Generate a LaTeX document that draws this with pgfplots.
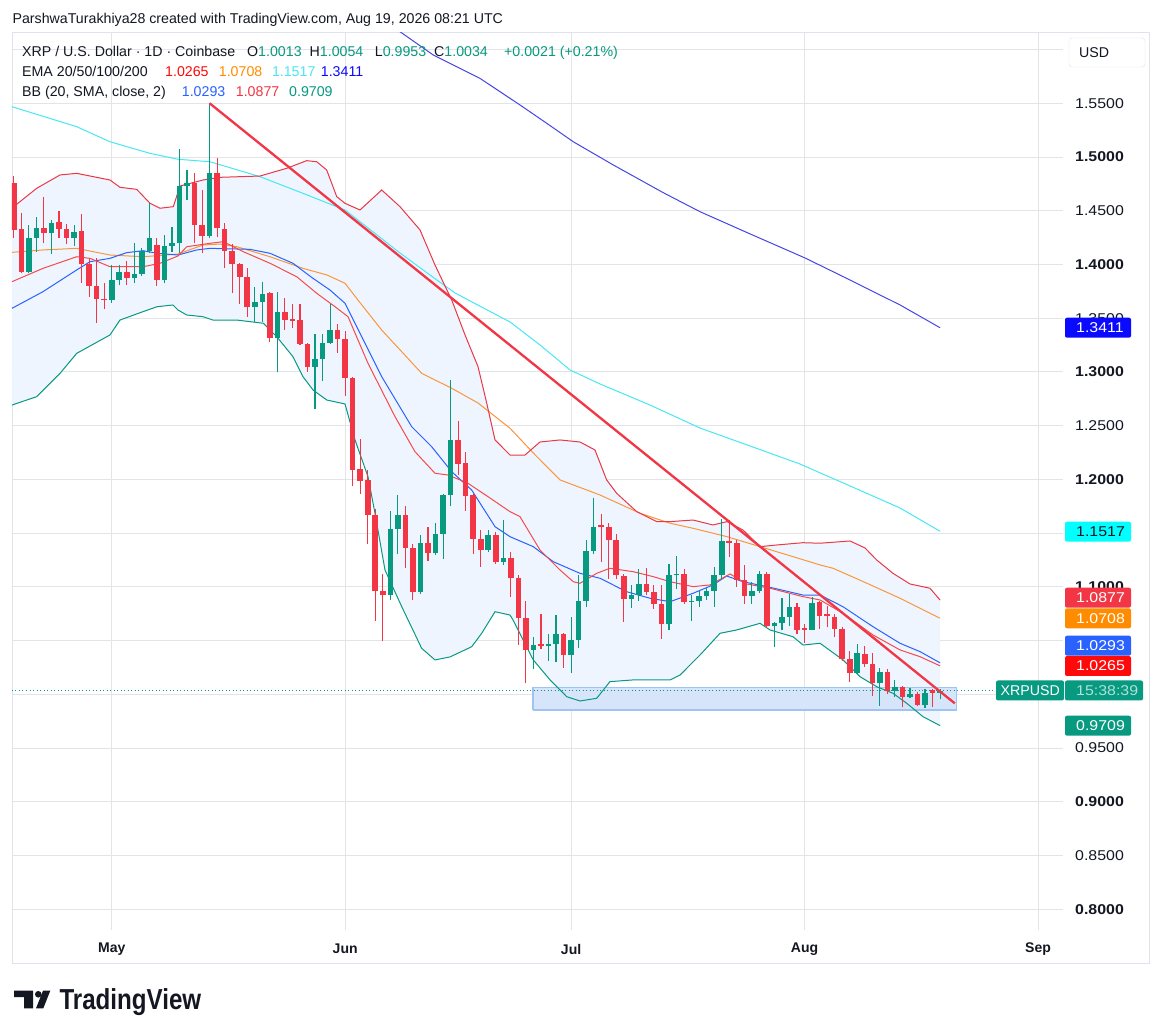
\documentclass[border=0pt]{standalone}
\usepackage{pgfplots}
\pgfplotsset{compat=1.18}
\usepackage{pgfplotstable}
\usepackage{fontspec}
\setmainfont{Liberation Sans}
\newfontfamily\pricefont[FakeStretch=1.12]{Liberation Sans}
\newfontfamily\tvfont[FakeStretch=0.835]{Liberation Sans}

\definecolor{upc}{RGB}{8,153,129}
\definecolor{dnc}{RGB}{242,54,69}
\definecolor{txt}{RGB}{19,23,34}
\definecolor{gridc}{RGB}{226,228,232}
\definecolor{framec}{RGB}{224,227,235}
\definecolor{emaA}{RGB}{245,75,75}
\definecolor{emaB}{RGB}{250,150,60}
\definecolor{emaC}{RGB}{70,232,245}
\definecolor{emaD}{RGB}{70,70,230}
\definecolor{bbmid}{RGB}{41,98,255}
\definecolor{bbup}{RGB}{235,55,70}
\definecolor{bbfill}{RGB}{239,245,254}
\definecolor{rectfill}{RGB}{214,229,250}
\definecolor{rectdraw}{RGB}{160,195,245}
\definecolor{labblue}{RGB}{10,10,255}
\definecolor{labcyan}{RGB}{0,255,255}
\definecolor{laborange}{RGB}{255,140,0}
\definecolor{labred}{RGB}{255,10,10}
\definecolor{timec}{RGB}{175,225,215}

% candles: d = days since 1 May
\pgfplotstableread{
d O H L C
-11 1.3930 1.4366 1.3920 1.4248
-10 1.4248 1.4444 1.4117 1.4336
-8 1.4289 1.4413 1.4093 1.4388
-5 1.4242 1.4364 1.4173 1.4300
0 1.3667 1.3993 1.3642 1.3851
1 1.3851 1.3993 1.3807 1.3931
3 1.3870 1.4200 1.3823 1.3910
4 1.3910 1.4150 1.3894 1.4124
5 1.4124 1.4568 1.4103 1.4242
7 1.3854 1.4270 1.3823 1.4173
8 1.4173 1.4350 1.4117 1.4196
9 1.4196 1.5075 1.4103 1.4730
10 1.4730 1.4879 1.4600 1.4760
13 1.4264 1.5500 1.4242 1.4848
19 1.3600 1.3792 1.3465 1.3652
20 1.3652 1.3838 1.3465 1.3723
22 1.3320 1.3745 1.3000 1.3558
27 1.3046 1.3357 1.2658 1.3124
28 1.3124 1.3357 1.2920 1.3270
29 1.3270 1.3636 1.3264 1.3388
37 1.0920 1.1705 1.0879 1.1541
38 1.1541 1.1852 1.1308 1.1671
41 1.0950 1.1479 1.0930 1.1407
43 1.1314 1.1593 1.1292 1.1494
44 1.1494 1.1867 1.1255 1.1852
45 1.1852 1.2923 1.1752 1.2364
50 1.1340 1.1525 1.1324 1.1479
52 1.1230 1.1618 1.1200 1.1271
56 1.0414 1.0538 1.0240 1.0463
58 1.0447 1.0563 1.0314 1.0466
59 1.0466 1.0740 1.0298 1.0563
61 1.0370 1.0718 1.0196 1.0510
62 1.0510 1.1106 1.0432 1.0864
63 1.0864 1.1432 1.0810 1.1333
64 1.1333 1.1830 1.1302 1.1556
69 1.0889 1.1013 1.0805 1.0920
70 1.0920 1.1168 1.0873 1.1029
74 1.0650 1.1215 1.0594 1.1106
75 1.1106 1.1283 1.0984 1.1122
77 1.0857 1.0920 1.0687 1.0873
78 1.0873 1.0966 1.0817 1.0911
79 1.0911 1.0991 1.0879 1.0966
80 1.0966 1.1184 1.0817 1.1106
81 1.1106 1.1634 1.1060 1.1426
85 1.0911 1.1044 1.0842 1.0957
86 1.0957 1.1147 1.0941 1.1116
88 1.0640 1.0671 1.0438 1.0668
89 1.0668 1.0898 1.0594 1.0718
90 1.0718 1.0929 1.0640 1.0811
93 1.0600 1.0904 1.0594 1.0851
99 1.0196 1.0469 1.0190 1.0382
102 1.0103 1.0246 0.9895 1.0212
104 1.0034 1.0134 0.9978 1.0072
106 0.9972 1.0059 0.9966 1.0003
108 0.9904 1.0053 0.9873 1.0009
110 1.0013 1.0054 0.9953 1.0034
}\candUp

\pgfplotstableread{
d O H L C
-13 1.4760 1.4820 1.4245 1.4320
-12 1.4326 1.4480 1.3916 1.3930
-9 1.4336 1.4624 1.4196 1.4289
-7 1.4391 1.4500 1.4242 1.4332
-6 1.4332 1.4373 1.4186 1.4242
-4 1.4310 1.4469 1.3832 1.4000
-3 1.4000 1.4047 1.3698 1.3798
-2 1.3798 1.4056 1.3456 1.3677
-1 1.3683 1.3829 1.3583 1.3667
2 1.3931 1.4034 1.3807 1.3870
6 1.4180 1.4248 1.3798 1.3854
11 1.4760 1.4848 1.4196 1.4366
12 1.4366 1.4692 1.4103 1.4264
14 1.4848 1.4993 1.4252 1.4336
15 1.4326 1.4382 1.3963 1.4127
16 1.4127 1.4189 1.3730 1.4000
17 1.4009 1.4015 1.3630 1.3884
18 1.3884 1.3963 1.3512 1.3600
21 1.3735 1.3745 1.3279 1.3320
23 1.3558 1.3692 1.3388 1.3480
24 1.3490 1.3636 1.3413 1.3475
25 1.3487 1.3636 1.3248 1.3264
26 1.3264 1.3270 1.3000 1.3046
30 1.3388 1.3450 1.3177 1.3311
31 1.3311 1.3382 1.2773 1.2948
32 1.2948 1.2955 1.1935 1.2090
33 1.2100 1.2379 1.1860 1.1985
34 1.1991 1.2090 1.1400 1.1665
35 1.1665 1.1727 1.0687 1.0966
36 1.0966 1.1122 1.0494 1.0920
39 1.1671 1.1752 1.1178 1.1364
40 1.1364 1.1395 1.0879 1.0950
42 1.1407 1.1556 1.1240 1.1314
46 1.2370 1.2543 1.2038 1.2147
47 1.2156 1.2255 1.1705 1.1842
48 1.1852 1.1860 1.1302 1.1448
49 1.1448 1.1525 1.1184 1.1340
51 1.1479 1.1510 1.1215 1.1230
53 1.1271 1.1324 1.0904 1.1080
54 1.1080 1.1106 1.0457 1.0712
55 1.0712 1.0867 1.0103 1.0414
57 1.0469 1.0749 1.0423 1.0447
60 1.0563 1.0570 1.0246 1.0370
65 1.1572 1.1680 1.1230 1.1556
66 1.1556 1.1593 1.1075 1.1432
67 1.1432 1.1494 1.1075 1.1106
68 1.1100 1.1122 1.0671 1.0889
71 1.1029 1.1178 1.0920 1.0950
72 1.0950 1.1013 1.0796 1.0842
73 1.0842 1.1022 1.0517 1.0650
76 1.1122 1.1168 1.0842 1.0857
82 1.1426 1.1618 1.1277 1.1407
83 1.1407 1.1432 1.0997 1.1066
84 1.1066 1.1200 1.0836 1.0911
87 1.1116 1.1137 1.0619 1.0640
91 1.0811 1.0848 1.0557 1.0594
92 1.0615 1.0650 1.0476 1.0600
94 1.0857 1.0873 1.0609 1.0733
95 1.0749 1.0826 1.0624 1.0733
96 1.0724 1.0749 1.0531 1.0609
97 1.0609 1.0624 1.0314 1.0330
98 1.0330 1.0407 1.0112 1.0196
100 1.0376 1.0454 1.0258 1.0283
101 1.0283 1.0382 0.9988 1.0103
103 1.0212 1.0237 1.0003 1.0034
105 1.0072 1.0081 0.9879 0.9972
107 1.0003 1.0019 0.9891 0.9904
109 1.0040 1.0053 0.9879 1.0013
}\candDn

% EMA 200
\pgfplotstableread{
d p
34.30 1.6368
38.28 1.6166
42.70 1.5949
48.90 1.5732
54.22 1.5484
57.76 1.5314
61.29 1.5142
66.60 1.4926
73.24 1.4668
78.12 1.4491
84.78 1.4284
92.08 1.4060
98.05 1.3855
104.69 1.3623
110.00 1.3411
}\emaDt

% EMA 100
\pgfplotstableread{
d p
-13.24 1.5468
-4.65 1.5282
-0.23 1.5142
5.09 1.5034
8.80 1.4979
13.05 1.4956
19.69 1.4817
25.40 1.4662
30.98 1.4507
38.28 1.4107
42.26 1.3902
45.58 1.3735
47.84 1.3651
52.89 1.3465
56.87 1.3251
60.86 1.3018
64.84 1.2888
71.48 1.2692
78.12 1.2478
84.76 1.2311
91.40 1.2143
98.04 1.1939
104.68 1.1734
110.00 1.1517
}\emaCt

% EMA 50
\pgfplotstableread{
d p
-13.24 1.4113
-9.12 1.4135
-4.65 1.4150
-0.23 1.4088
4.16 1.4072
8.80 1.4097
12.12 1.4181
14.38 1.4190
16.64 1.4165
21.02 1.4072
25.40 1.3964
28.59 1.3902
30.98 1.3825
32.70 1.3669
35.85 1.3390
41.16 1.2987
45.15 1.2848
48.64 1.2711
52.89 1.2476
56.24 1.2227
59.53 1.1995
64.84 1.1855
70.16 1.1685
74.14 1.1592
77.19 1.1545
81.71 1.1467
86.09 1.1374
90.47 1.1281
94.06 1.1204
95.79 1.1173
100.30 1.1033
104.68 1.0894
110.00 1.0708
}\emaBt

% EMA 20
\pgfplotstableread{
d p
-13.24 1.3840
-9.12 1.3964
-4.65 1.4072
-2.88 1.4057
-0.23 1.3979
4.16 1.3979
6.41 1.4011
8.80 1.4079
9.96 1.4165
13.05 1.4197
14.82 1.4212
17.47 1.4119
21.02 1.4011
24.57 1.3886
27.22 1.3732
29.65 1.3607
31.38 1.3514
34.03 1.3080
37.62 1.2584
40.27 1.2258
42.93 1.2057
44.66 1.2041
47.31 1.1964
49.97 1.1839
52.89 1.1700
54.22 1.1653
56.87 1.1343
59.53 1.1157
61.29 1.1048
62.18 1.1033
64.40 1.1126
66.16 1.1173
69.26 1.1141
71.92 1.1095
74.14 1.1048
77.19 1.1002
79.45 1.1018
82.11 1.1120
84.32 1.1027
87.41 1.0987
91.80 1.0909
94.06 1.0878
97.11 1.0754
101.10 1.0552
104.68 1.0413
107.34 1.0350
110.00 1.0265
}\emaAt

% BB basis
\pgfplotstableread{
d p
-13.24 1.3592
-9.12 1.3747
-4.65 1.3949
-2.88 1.4026
-0.23 1.4057
1.99 1.4110
4.16 1.4128
6.02 1.4104
8.80 1.4088
11.29 1.4135
13.05 1.4150
18.36 1.4141
21.02 1.4104
24.07 1.4011
26.73 1.3871
28.99 1.3762
30.98 1.3639
32.31 1.3453
35.85 1.2956
39.84 1.2490
42.49 1.2304
45.15 1.2072
47.80 1.1901
50.90 1.1560
52.89 1.1467
55.98 1.1374
58.64 1.1234
62.18 1.1126
64.84 1.1080
68.38 1.0955
71.48 1.0894
74.14 1.0862
77.19 1.0940
79.84 1.1018
81.66 1.1101
83.83 1.1048
87.41 1.0996
91.80 1.0924
94.06 1.0924
97.11 1.0815
101.10 1.0629
104.68 1.0475
107.34 1.0397
110.00 1.0293
}\bbmt

% BB upper
\pgfplotstableread{
d p
-13.24 1.4525
-9.96 1.4709
-6.86 1.4833
-4.65 1.4848
-0.23 1.4786
1.10 1.4718
3.32 1.4699
5.09 1.4569
6.41 1.4523
8.18 1.4538
9.07 1.4730
12.12 1.4786
14.38 1.4811
19.69 1.4823
23.24 1.4895
25.89 1.4966
27.22 1.4956
28.55 1.4879
29.88 1.4631
30.98 1.4569
32.97 1.4507
35.85 1.4693
38.28 1.4538
40.94 1.4321
42.93 1.3995
45.15 1.3669
46.92 1.3344
48.64 1.3049
49.70 1.2739
50.90 1.2367
52.89 1.2227
54.88 1.2227
56.87 1.2348
59.53 1.2367
62.18 1.2348
64.17 1.2274
65.72 1.1995
67.05 1.1871
69.71 1.1700
72.37 1.1607
74.14 1.1607
77.19 1.1622
79.84 1.1576
81.70 1.1607
83.83 1.1529
86.09 1.1374
88.35 1.1390
91.80 1.1411
94.06 1.1406
98.04 1.1427
100.03 1.1362
101.58 1.1250
103.74 1.1126
106.00 1.1027
108.66 1.0987
110.00 1.0877
}\bbut

% BB lower
\pgfplotstableread{
d p
-13.24 1.2692
-9.96 1.2770
-6.86 1.2987
-4.65 1.3173
-0.23 1.3344
1.10 1.3483
4.16 1.3561
6.02 1.3607
8.14 1.3623
8.80 1.3576
9.96 1.3530
12.12 1.3514
13.45 1.3483
16.60 1.3483
20.13 1.3453
21.91 1.3328
24.07 1.3142
25.40 1.2956
26.73 1.2832
28.55 1.2739
30.98 1.2702
32.31 1.2367
34.03 1.2025
34.96 1.1685
36.29 1.1157
38.51 1.0816
41.16 1.0428
42.93 1.0320
44.92 1.0348
47.80 1.0443
49.13 1.0568
50.90 1.0769
52.89 1.0738
53.29 1.0692
55.98 1.0320
58.21 1.0134
60.42 0.9978
62.18 0.9938
64.40 0.9963
66.16 1.0118
69.22 1.0134
74.14 1.0134
75.47 1.0180
78.12 1.0366
80.78 1.0568
82.99 1.0599
86.09 1.0661
87.41 1.0599
90.47 1.0536
91.80 1.0459
94.06 1.0475
97.11 1.0320
99.37 1.0164
101.58 1.0071
103.74 1.0010
105.56 0.9917
107.73 0.9792
110.00 0.9709
}\bblt

% BB band outline: upper band forward, lower band backward
\pgfplotstableread{
d p
-13.24 1.4525
-9.96 1.4709
-6.86 1.4833
-4.65 1.4848
-0.23 1.4786
1.10 1.4718
3.32 1.4699
5.09 1.4569
6.41 1.4523
8.18 1.4538
9.07 1.4730
12.12 1.4786
14.38 1.4811
19.69 1.4823
23.24 1.4895
25.89 1.4966
27.22 1.4956
28.55 1.4879
29.88 1.4631
30.98 1.4569
32.97 1.4507
35.85 1.4693
38.28 1.4538
40.94 1.4321
42.93 1.3995
45.15 1.3669
46.92 1.3344
48.64 1.3049
49.70 1.2739
50.90 1.2367
52.89 1.2227
54.88 1.2227
56.87 1.2348
59.53 1.2367
62.18 1.2348
64.17 1.2274
65.72 1.1995
67.05 1.1871
69.71 1.1700
72.37 1.1607
74.14 1.1607
77.19 1.1622
79.84 1.1576
81.70 1.1607
83.83 1.1529
86.09 1.1374
88.35 1.1390
91.80 1.1411
94.06 1.1406
98.04 1.1427
100.03 1.1362
101.58 1.1250
103.74 1.1126
106.00 1.1027
108.66 1.0987
110.00 1.0877
110.00 0.9709
107.73 0.9792
105.56 0.9917
103.74 1.0010
101.58 1.0071
99.37 1.0164
97.11 1.0320
94.06 1.0475
91.80 1.0459
90.47 1.0536
87.41 1.0599
86.09 1.0661
82.99 1.0599
80.78 1.0568
78.12 1.0366
75.47 1.0180
74.14 1.0134
69.22 1.0134
66.16 1.0118
64.40 0.9963
62.18 0.9938
60.42 0.9978
58.21 1.0134
55.98 1.0320
53.29 1.0692
52.89 1.0738
50.90 1.0769
49.13 1.0568
47.80 1.0443
44.92 1.0348
42.93 1.0320
41.16 1.0428
38.51 1.0816
36.29 1.1157
34.96 1.1685
34.03 1.2025
32.31 1.2367
30.98 1.2702
28.55 1.2739
26.73 1.2832
25.40 1.2956
24.07 1.3142
21.91 1.3328
20.13 1.3453
16.60 1.3483
13.45 1.3483
12.12 1.3514
9.96 1.3530
8.80 1.3576
8.14 1.3623
6.02 1.3607
4.16 1.3561
1.10 1.3483
-0.23 1.3344
-4.65 1.3173
-6.86 1.2987
-9.96 1.2770
-13.24 1.2692
}\bbband

\newcommand{\hdr}{\fontsize{14.2}{17}\selectfont}
\newcommand{\prc}{\fontsize{14.2}{17}\pricefont}

\begin{document}
\begin{tikzpicture}
\fill[white] (0pt,0pt) rectangle (1162pt,1036pt);
% chart frame
\draw[framec, line width=1pt] (12pt,1003pt) rectangle (1149pt,72pt);

\begin{axis}[
  at={(12pt,106pt)}, anchor=south west,
  width=1051pt, height=897pt, scale only axis,
  xmin=-13.24, xmax=126.32, ymin=0.7807, ymax=1.6154,
  axis line style={draw=none}, major tick length=0pt,
  xtick={0,31,61,92,123},
  xticklabels={May,Jun,Jul,Aug,Sep},
  xticklabel style={font=\fontsize{14}{16}\selectfont\bfseries, text=txt, anchor=center, inner sep=0pt, yshift=-19pt},
  ytick={0.80,0.85,0.90,0.95,1.00,1.05,1.10,1.15,1.20,1.25,1.30,1.35,1.40,1.45,1.50,1.55,1.60},
  yticklabels={\textbf{0.8000},0.8500,\textbf{0.9000},0.9500,{},{},\textbf{1.1000},{},\textbf{1.2000},1.2500,\textbf{1.3000},1.3500,\textbf{1.4000},1.4500,\textbf{1.5000},1.5500,{}},
  yticklabel pos=right,
  yticklabel style={font=\prc, text=txt, anchor=west, inner sep=0pt, xshift=12pt},
  xmajorgrids, ymajorgrids,
  major grid style={draw=gridc, line width=1pt, solid},
]
% Bollinger band fill
\addplot[fill=bbfill, draw=none, forget plot] table[x=d,y=p]{\bbband};

% support rectangle
\addplot[fill=rectfill, draw=rectdraw, line width=1.3pt, line join=miter, forget plot] coordinates {(55.95,0.9854) (112.2,0.9854) (112.2,1.0065) (55.95,1.0065) (55.95,0.9854)};

% indicator lines
\addplot[emaD, line width=1pt, forget plot] table[x=d,y=p]{\emaDt};
\addplot[emaC, line width=1pt, forget plot] table[x=d,y=p]{\emaCt};
\addplot[emaB, line width=1pt, forget plot] table[x=d,y=p]{\emaBt};
\addplot[bbup, line width=1pt, forget plot] table[x=d,y=p]{\bbut};
\addplot[upc, line width=1pt, forget plot] table[x=d,y=p]{\bblt};
\addplot[bbmid, line width=1pt, forget plot] table[x=d,y=p]{\bbmt};
\addplot[emaA, line width=1pt, forget plot] table[x=d,y=p]{\emaAt};

% current price dotted line
\addplot[upc, line width=1pt, dash pattern=on 1pt off 2.5pt, forget plot] coordinates {(-13.24,1.0034) (117.4,1.0034)};

% candles: wicks
\addplot[draw=none, mark=none, forget plot,
  error bars/.cd, y dir=plus, y explicit, error mark=none,
  error bar style={line width=1.1pt, draw=upc, solid}]
  table[x=d, y=L, y error plus expr=\thisrow{H}-\thisrow{L}]{\candUp};
\addplot[draw=none, mark=none, forget plot,
  error bars/.cd, y dir=plus, y explicit, error mark=none,
  error bar style={line width=1.1pt, draw=dnc, solid}]
  table[x=d, y=L, y error plus expr=\thisrow{H}-\thisrow{L}]{\candDn};
% candles: bodies
\addplot[draw=none, mark=none, forget plot,
  error bars/.cd, y dir=plus, y explicit, error mark=none,
  error bar style={line width=5.6pt, draw=upc, solid}]
  table[x=d, y=O, y error plus expr=\thisrow{C}-\thisrow{O}]{\candUp};
\addplot[draw=none, mark=none, forget plot,
  error bars/.cd, y dir=plus, y explicit, error mark=none,
  error bar style={line width=5.6pt, draw=dnc, solid}]
  table[x=d, y=C, y error plus expr=\thisrow{O}-\thisrow{C}]{\candDn};

% trend line
\addplot[dnc, line width=2.3pt, forget plot] coordinates {(13,1.55) (111.95,0.9916)};
\end{axis}

% header
\node[anchor=base west, inner sep=0pt, text=txt, font=\hdr] at (12.4pt,1012.5pt) {ParshwaTurakhiya28 created with TradingView.com, Aug 19, 2026 08:21 UTC};
\node[anchor=base west, inner sep=0pt, text=txt, font=\hdr] at (22pt,979.3pt) {XRP / U.S. Dollar · 1D · Coinbase};
\node[anchor=base west, inner sep=0pt, text=txt, font=\hdr] at (247pt,979.3pt) {O\textcolor{upc}{1.0013}};
\node[anchor=base west, inner sep=0pt, text=txt, font=\hdr] at (309.5pt,979.3pt) {H\textcolor{upc}{1.0054}};
\node[anchor=base west, inner sep=0pt, text=txt, font=\hdr] at (374.7pt,979.3pt) {L\textcolor{upc}{0.9953}};
\node[anchor=base west, inner sep=0pt, text=txt, font=\hdr] at (434pt,979.3pt) {C\textcolor{upc}{1.0034}};
\node[anchor=base west, inner sep=0pt, text=upc, font=\hdr] at (504pt,979.3pt) {+0.0021 (+0.21\%)};
\node[anchor=base west, inner sep=0pt, text=txt, font=\hdr] at (22pt,959.3pt) {EMA 20/50/100/200};
\node[anchor=base west, inner sep=0pt, text=labred, font=\hdr] at (165pt,959.3pt) {1.0265};
\node[anchor=base west, inner sep=0pt, text=laborange, font=\hdr] at (218.7pt,959.3pt) {1.0708};
\node[anchor=base west, inner sep=0pt, text=emaC, font=\hdr] at (271.8pt,959.3pt) {1.1517};
\node[anchor=base west, inner sep=0pt, text=labblue, font=\hdr] at (320.7pt,959.3pt) {1.3411};
\node[anchor=base west, inner sep=0pt, text=txt, font=\hdr] at (22pt,939.7pt) {BB (20, SMA, close, 2)};
\node[anchor=base west, inner sep=0pt, text=bbmid, font=\hdr] at (181.7pt,939.7pt) {1.0293};
\node[anchor=base west, inner sep=0pt, text=dnc, font=\hdr] at (235.7pt,939.7pt) {1.0877};
\node[anchor=base west, inner sep=0pt, text=upc, font=\hdr] at (289pt,939.7pt) {0.9709};

% USD box
\draw[draw=framec, fill=white, rounded corners=3pt] (1069pt,998pt) rectangle (1145pt,969pt);
\node[anchor=west, inner sep=0pt, text=txt, font=\hdr] at (1079pt,983.5pt) {USD};

% price labels on the scale
\fill[labblue, rounded corners=2pt] (1065pt,698.3pt) rectangle (1131pt,718.3pt);
\node[anchor=west, inner sep=0pt, text=white, font=\prc] at (1076pt,708.3pt) {1.3411};
\fill[labcyan, rounded corners=2pt] (1065pt,494.3pt) rectangle (1131pt,514.3pt);
\node[anchor=west, inner sep=0pt, text=txt, font=\prc] at (1076pt,504.3pt) {1.1517};
\fill[dnc, rounded corners=2pt] (1065pt,428.3pt) rectangle (1131pt,448.3pt);
\node[anchor=west, inner sep=0pt, text=white, font=\prc] at (1076pt,438.3pt) {1.0877};
\fill[laborange, rounded corners=2pt] (1065pt,407.7pt) rectangle (1131pt,427.7pt);
\node[anchor=west, inner sep=0pt, text=white, font=\prc] at (1076pt,417.7pt) {1.0708};
\fill[bbmid, rounded corners=2pt] (1065pt,380.3pt) rectangle (1131pt,400.3pt);
\node[anchor=west, inner sep=0pt, text=white, font=\prc] at (1076pt,390.3pt) {1.0293};
\fill[labred, rounded corners=2pt] (1065pt,360pt) rectangle (1131pt,380pt);
\node[anchor=west, inner sep=0pt, text=white, font=\prc] at (1076pt,370pt) {1.0265};
\fill[upc, rounded corners=2pt] (996pt,335.5pt) rectangle (1064pt,355.5pt);
\node[anchor=west, inner sep=0pt, text=white, font=\hdr] at (1000.5pt,345.5pt) {XRPUSD};
\fill[upc, rounded corners=2pt] (1065pt,335.5pt) rectangle (1143pt,355.5pt);
\node[anchor=west, inner sep=0pt, text=timec, font=\prc] at (1076pt,345.5pt) {15:38:39};
\fill[upc, rounded corners=2pt] (1065pt,300.3pt) rectangle (1131pt,320.3pt);
\node[anchor=west, inner sep=0pt, text=white, font=\prc] at (1076pt,310.3pt) {0.9709};

% TradingView logo
\fill[txt] (14pt,45.3pt) -- (33pt,45.3pt) -- (33pt,27.7pt) -- (24pt,27.7pt) -- (24pt,38.8pt) -- (14pt,38.8pt) -- cycle;
\fill[txt] (38.3pt,41.7pt) circle (3.3pt);
\fill[txt] (36pt,27.7pt) -- (43.3pt,27.7pt) -- (50.3pt,45.3pt) -- (43pt,45.3pt) -- cycle;
\node[anchor=base west, inner sep=0pt, text=txt, font=\fontsize{28.9}{32}\tvfont\bfseries] at (59.3pt,26pt) {TradingView};

\pgfresetboundingbox
\path (0pt,0pt) rectangle (1162pt,1036pt);
\end{tikzpicture}
\end{document}
